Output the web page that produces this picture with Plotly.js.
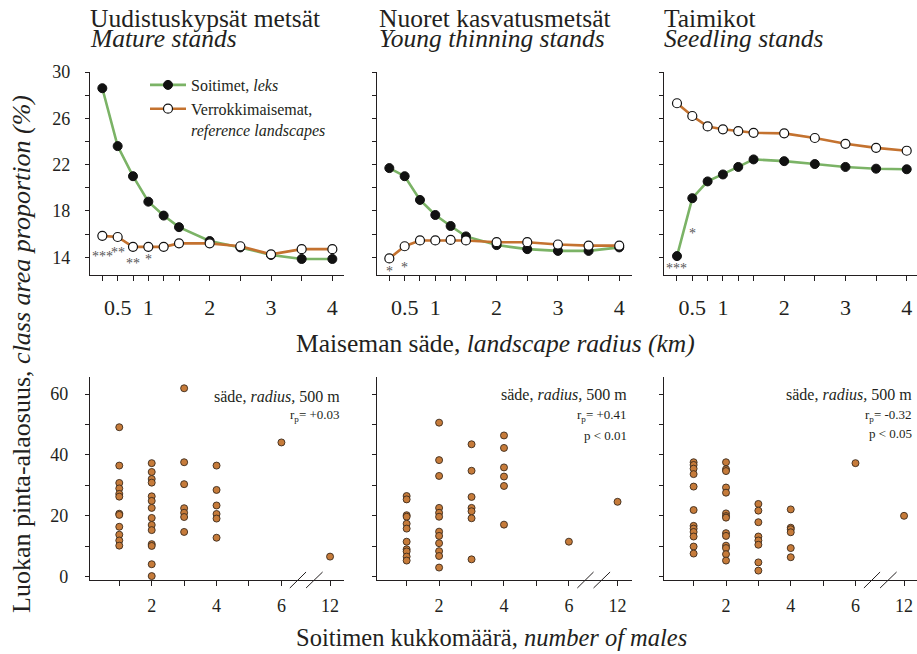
<!DOCTYPE html>
<html><head><meta charset="utf-8">
<script src="https://cdn.plot.ly/plotly-3.0.1.min.js"></script>
<style>html,body{margin:0;padding:0;background:#fff}#chart{width:917px;height:654px}</style>
</head><body><div id="chart"></div>
<script>
// ---- data: top row (class area proportion % vs landscape radius km)
const radius = [0.25, 0.5, 0.75, 1, 1.25, 1.5, 2, 2.5, 3, 3.5, 4];
const radiusLabels = ['', '0.5', '', '1', '', '', '2', '', '3', '', '4'];
const matureLeks = [28.6, 23.6, 21.0, 18.8, 17.6, 16.6, 15.4, 14.85, 14.2, 13.85, 13.85];
const matureRef  = [15.85, 15.75, 14.9, 14.9, 14.9, 15.2, 15.2, 14.95, 14.25, 14.7, 14.7];
const youngLeks  = [21.7, 21.0, 18.95, 17.65, 16.7, 15.8, 15.05, 14.7, 14.55, 14.55, 14.85];
const youngRef   = [13.9, 14.95, 15.45, 15.45, 15.5, 15.45, 15.3, 15.3, 15.1, 15.0, 15.0];
const seedLeks   = [14.1, 19.1, 20.55, 21.15, 21.8, 22.45, 22.3, 22.05, 21.8, 21.65, 21.6];
const seedRef    = [27.3, 26.2, 25.3, 25.05, 24.9, 24.75, 24.7, 24.3, 23.8, 23.45, 23.2];
const shareTicks = [14, 16, 18, 20, 22, 24, 26, 28, 30];
const shareTickText = ['14', '', '18', '', '22', '', '26', '', '30'];

// significance marks: [radius, level, text]
const matureStars = [[0.25, 14.05, '***'], [0.5, 14.45, '**'], [0.75, 13.5, '**'], [1, 13.8, '*']];
const youngStars  = [[0.25, 12.8, '*'], [0.5, 13.1, '*']];
const seedStars   = [[0.25, 13.0, '***'], [0.5, 16.05, '*']];

// ---- data: bottom row (class area proportion % vs number of males, 500 m radius)
const matureMales = [1,1,1,1,1,1,1,1,1,1,1,1, 2,2,2,2,2,2,2,2,2,2,2,2,2,2, 3,3,3,3,3,3,3, 4,4,4,4,4,4, 6, 12];
const matureShare = [49.1,36.5,30.8,29.0,27.2,26.3,20.7,20.3,16.4,13.8,11.9,10.2,
                     37.3,34.4,32.1,30.9,26.4,24.9,22.6,19.3,17.0,15.3,10.7,10.1,4.1,0.2,
                     61.9,37.6,30.4,22.5,21.0,19.6,14.7,
                     36.5,28.5,23.4,20.6,19.1,12.8,
                     44.1, 6.6];
const youngMales = [1,1,1,1,1,1,1,1,1,1,1, 2,2,2,2,2,2,2,2,2,2,2,2, 3,3,3,3,3,3,3, 4,4,4,4,4,4, 6, 12];
const youngShare = [26.5,25.4,20.2,19.7,17.4,15.8,11.5,9.0,8.3,6.6,5.3,
                    50.6,38.3,33.1,22.6,21.0,19.7,14.8,13.4,11.0,8.4,6.8,3.0,
                    43.5,34.8,26.2,22.6,21.5,19.2,5.7,
                    46.4,42.3,35.9,32.9,29.8,17.1,
                    11.5, 24.6];
const seedMales = [1,1,1,1,1,1,1,1,1,1,1,1, 2,2,2,2,2,2,2,2,2,2,2,2,2,2, 3,3,3,3,3,3,3,3, 4,4,4,4,4,4, 6, 12];
const seedShare = [37.6,36.7,35.5,33.7,29.6,21.9,16.7,15.8,14.7,13.2,9.9,7.6,
                   37.6,35.3,34.7,29.3,27.6,20.8,19.9,19.4,14.3,13.4,10.2,9.4,7.4,5.3,
                   23.9,21.7,17.9,13.2,11.9,10.5,4.7,2.0,
                   22.1,16.1,15.6,14.6,9.4,6.4,
                   37.3, 20.0];
const maleTicks = [1, 2, 3, 4, 5, 6, 12];
const maleTickText = ['', '2', '', '4', '', '6', '12'];
const bottomShareTicks = [0, 10, 20, 30, 40, 50, 60];
const bottomShareText = ['0', '', '20', '', '40', '', '60'];
const corrText = [['r<sub>p</sub>= +0.03'], ['r<sub>p</sub>= +0.41', 'p < 0.01'], ['r<sub>p</sub>= -0.32', 'p < 0.05']];

// ---- rendering
const W = 917, H = 654;
const px = v => v / W, py = v => 1 - v / H;
const FONT = 'Liberation Serif';
const INK = '#231f20';
const GREEN = '#7bb366', ORANGE = '#c4722f', DOT = '#c67b3a';
const breakPos = 7.5; // axis position of the value after the axis break
const axPos = m => (m <= 6 ? m : breakPos);

const traces = [];
const tops = [[matureLeks, matureRef], [youngLeks, youngRef], [seedLeks, seedRef]];
tops.forEach((p, i) => {
  const xa = i === 0 ? 'x' : 'x' + (i + 1), ya = i === 0 ? 'y' : 'y' + (i + 1);
  traces.push({x: radius, y: p[0], xaxis: xa, yaxis: ya, type: 'scatter', mode: 'lines+markers',
    name: 'Soitimet, <i>leks</i>', showlegend: i === 0, legendgroup: 'a', cliponaxis: false,
    line: {color: GREEN, width: 2.6}, marker: {size: 9, color: '#111', line: {color: '#111', width: 1}}});
  traces.push({x: radius, y: p[1], xaxis: xa, yaxis: ya, type: 'scatter', mode: 'lines+markers',
    name: 'Verrokkimaisemat,<br><i>reference landscapes</i>', showlegend: i === 0, legendgroup: 'b', cliponaxis: false,
    line: {color: ORANGE, width: 2.6}, marker: {size: 9, color: '#fff', line: {color: '#111', width: 1.2}}});
});
const bots = [[matureMales, matureShare], [youngMales, youngShare], [seedMales, seedShare]];
bots.forEach((p, i) => {
  traces.push({x: p[0].map(axPos), y: p[1], xaxis: 'x' + (i + 4), yaxis: 'y' + (i + 4), type: 'scatter', mode: 'markers',
    showlegend: false, cliponaxis: false, customdata: p[0],
    marker: {size: 7, color: DOT, line: {color: '#3b2a1c', width: 0.9}}});
});

const axisBase = {showline: true, linecolor: INK, linewidth: 1.2, ticks: 'outside', ticklen: 5, tickwidth: 1,
  tickcolor: INK, showgrid: false, zeroline: false, tickmode: 'array', fixedrange: true};
const topXDom = [[90, 344], [377, 631.5], [664, 917]];
const topXRange = [[0.049, 4.19], [0.049, 4.2], [0.038, 4.168]];
const botXRange = [[0.097, 7.93], [0.086, 7.93], [0.085, 7.9]];
const layout = {width: W, height: H, margin: {l: 0, r: 0, t: 0, b: 0}, paper_bgcolor: '#fff', plot_bgcolor: 'rgba(0,0,0,0)',
  font: {family: FONT, color: INK}, showlegend: true,
  legend: {x: px(145), y: py(68), xanchor: 'left', yanchor: 'top', bgcolor: 'rgba(0,0,0,0)', borderwidth: 0,
    font: {family: FONT, size: 16, color: INK}, valign: 'top', itemwidth: 36, tracegroupgap: 0},
  annotations: [], shapes: []};

for (let i = 0; i < 3; i++) {
  const s = i === 0 ? '' : String(i + 1);
  layout['xaxis' + s] = Object.assign({}, axisBase, {domain: [px(topXDom[i][0]), px(topXDom[i][1])], range: topXRange[i],
    tickvals: radius, ticktext: radiusLabels, tickfont: {family: FONT, size: 22, color: INK}, ticklabelstandoff: 8, anchor: 'y' + s});
  layout['yaxis' + s] = Object.assign({}, axisBase, {domain: [py(274.5), py(72)], range: [12.51, 30], ticklen: 4,
    tickvals: shareTicks, ticktext: i === 0 ? shareTickText : shareTicks.map(() => ''),
    tickfont: {family: FONT, size: 18, color: INK}, ticklabelstandoff: 11, anchor: 'x' + s});
  const b = String(i + 4);
  layout['xaxis' + b] = Object.assign({}, axisBase, {domain: [px(topXDom[i][0]), px(topXDom[i][1])], range: botXRange[i],
    tickvals: maleTicks.map(axPos), ticktext: maleTickText, tickfont: {family: FONT, size: 18, color: INK}, ticklabelstandoff: 5, anchor: 'y' + b});
  layout['yaxis' + b] = Object.assign({}, axisBase, {domain: [py(579.5), py(376.7)], range: [-0.92, 65.7], ticklen: 4,
    tickvals: bottomShareTicks, ticktext: i === 0 ? bottomShareText : bottomShareTicks.map(() => ''),
    tickfont: {family: FONT, size: 18, color: INK}, ticklabelstandoff: 13, anchor: 'x' + b});
  // axis break marks
  [[6.26, 6.76], [6.76, 7.27]].forEach(seg => layout.shapes.push({type: 'line', xref: 'x' + b, yref: 'paper',
    x0: seg[0], x1: seg[1], y0: py(588), y1: py(572), line: {color: INK, width: 1}}));
}

// significance stars
[matureStars, youngStars, seedStars].forEach((arr, i) => {
  const s = i === 0 ? '' : String(i + 1);
  arr.forEach(st => layout.annotations.push({xref: 'x' + s, yref: 'y' + s, x: st[0], y: st[1], text: st[2],
    showarrow: false, font: {family: FONT, size: 14, color: '#555'}, xanchor: 'center', yanchor: 'middle'}));
});

// panel titles
const titles = [['Uudistuskypsät metsät', 'Mature stands', 88], ['Nuoret kasvatusmetsät', 'Young thinning stands', 377], ['Taimikot', 'Seedling stands', 662]];
titles.forEach(t => {
  layout.annotations.push({xref: 'paper', yref: 'paper', x: px(t[2]), y: py(18), xanchor: 'left', yanchor: 'middle',
    text: t[0], showarrow: false, font: {family: FONT, size: 25.5, color: INK}});
  layout.annotations.push({xref: 'paper', yref: 'paper', x: px(t[2]), y: py(38), xanchor: 'left', yanchor: 'middle',
    text: '<i>' + t[1] + '</i>', showarrow: false, font: {family: FONT, size: 25.5, color: INK}});
});

// bottom panel notes
const noteRight = [341.7, 628.5, 914];
const noteY = [[396, 415.5], [394, 415, 435], [394, 415, 433.5]];
noteRight.forEach((r, i) => {
  layout.annotations.push({xref: 'paper', yref: 'paper', x: px(r), y: py(noteY[i][0]), xanchor: 'right', yanchor: 'middle',
    text: 'säde, <i>radius,</i> 500 m', showarrow: false, font: {family: FONT, size: 16, color: INK}});
  corrText[i].forEach((t, k) => layout.annotations.push({xref: 'paper', yref: 'paper', x: px(r), y: py(noteY[i][k + 1]),
    xanchor: 'right', yanchor: 'middle', text: t, showarrow: false, font: {family: FONT, size: 13, color: INK}}));
});

// axis titles
layout.annotations.push({xref: 'paper', yref: 'paper', x: px(21), y: py(354), textangle: -90, xanchor: 'center', yanchor: 'middle',
  text: 'Luokan pinta-alaosuus, <i>class area proportion (%)</i>', showarrow: false, font: {family: FONT, size: 26, color: INK}});
layout.annotations.push({xref: 'paper', yref: 'paper', x: px(495), y: py(343), xanchor: 'center', yanchor: 'middle',
  text: 'Maiseman säde, <i>landscape radius (km)</i>', showarrow: false, font: {family: FONT, size: 25.5, color: INK}});
layout.annotations.push({xref: 'paper', yref: 'paper', x: px(491), y: py(637), xanchor: 'center', yanchor: 'middle',
  text: 'Soitimen kukkomäärä, <i>number of males</i>', showarrow: false, font: {family: FONT, size: 24.5, color: INK}});

Plotly.newPlot('chart', traces, layout, {staticPlot: true, displayModeBar: false});
</script></body></html>
